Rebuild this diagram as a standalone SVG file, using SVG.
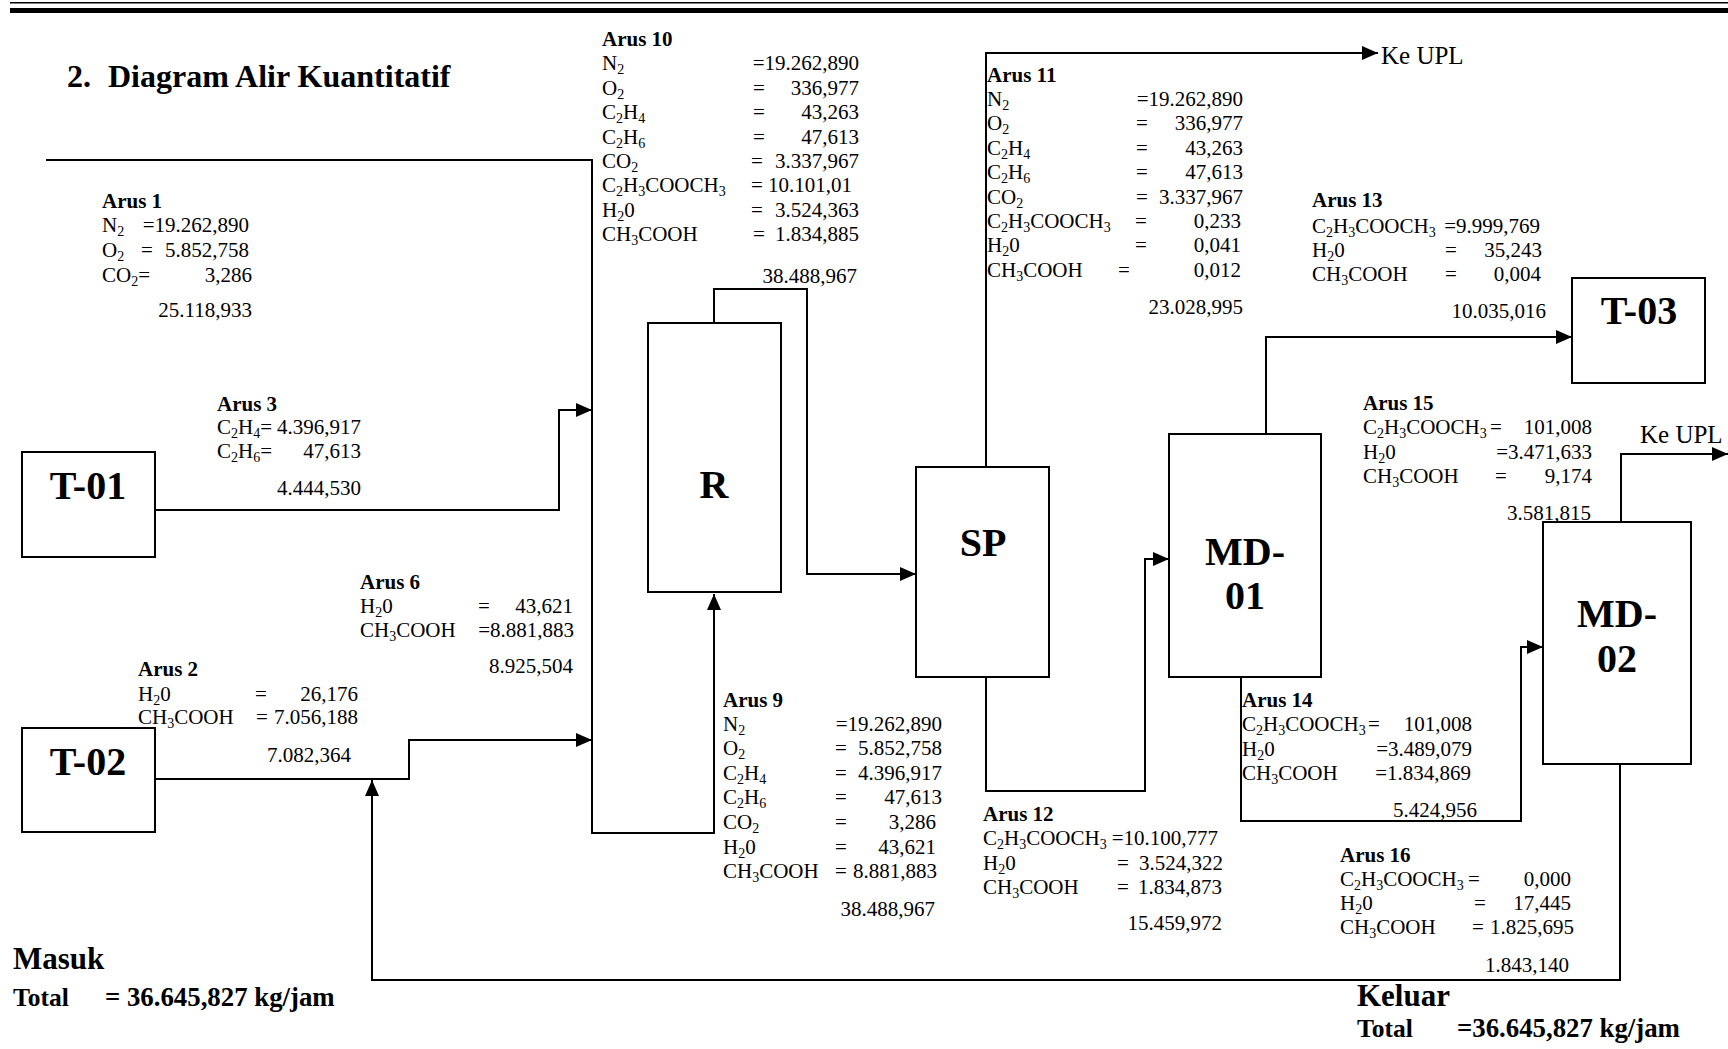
<svg xmlns="http://www.w3.org/2000/svg" width="1728" height="1049" viewBox="0 0 1728 1049">
<style>
text{font-family:"Liberation Serif","Times New Roman",serif;font-size:21px;fill:#000}
.b{font-weight:bold}
.e{text-anchor:end}
.s{font-size:14px;baseline-shift:-4px}
.eq{font-size:40px;font-weight:bold;text-anchor:middle}
.big{font-size:31px;font-weight:bold}
.tot{font-size:25.5px;font-weight:bold}
.totv{font-size:26.8px;font-weight:bold}
.upl{font-size:25px}
.title{font-size:32px;font-weight:bold}
.box{fill:none;stroke:#000;stroke-width:2}
.ln{fill:none;stroke:#000;stroke-width:2}
</style>
<defs>
<marker id="ah" markerUnits="userSpaceOnUse" markerWidth="16" markerHeight="14" refX="16" refY="7" orient="auto"><path d="M0,0L16,7L0,14z" fill="#000"/></marker>
</defs>
<rect width="1728" height="1049" fill="#fff"/>
<g id="header">
<rect x="10" y="2" width="1718" height="1.5" fill="#000"/>
<rect x="10" y="8" width="1718" height="5" fill="#000"/>
<text class="title" x="67" y="87">2.</text>
<text class="title" x="108" y="87">Diagram Alir Kuantitatif</text>
</g>

<g id="connectors">
<path class="ln" d="M46,160H592V833H714V594" marker-end="url(#ah)"/>
<path class="ln" d="M155,510H559V410H592" marker-end="url(#ah)"/>
<path class="ln" d="M155,779H409V740H592" marker-end="url(#ah)"/>
<path class="ln" d="M1620,764V980H372V780" marker-end="url(#ah)"/>
<path class="ln" d="M714,323V289H807V574H916" marker-end="url(#ah)"/>
<path class="ln" d="M986,467V53H1378" marker-end="url(#ah)"/>
<path class="ln" d="M986,677V791H1145V559H1169" marker-end="url(#ah)"/>
<path class="ln" d="M1266,434V337H1572" marker-end="url(#ah)"/>
<path class="ln" d="M1241,677V821H1521V647H1543" marker-end="url(#ah)"/>
<path class="ln" d="M1621,522V454H1728" marker-end="url(#ah)"/>
</g>

<g id="T-01"><rect class="box" x="22" y="452" width="133" height="105"/><text class="eq" x="88" y="499">T-01</text></g>
<g id="T-02"><rect class="box" x="22" y="728" width="133" height="104"/><text class="eq" x="88" y="775">T-02</text></g>
<g id="R"><rect class="box" x="648" y="323" width="133" height="269"/><text class="eq" x="714" y="498">R</text></g>
<g id="SP"><rect class="box" x="916" y="467" width="133" height="210"/><text class="eq" x="983" y="556">SP</text></g>
<g id="MD-01"><rect class="box" x="1169" y="434" width="152" height="243"/><text class="eq" x="1245" y="565">MD-</text><text class="eq" x="1245" y="609">01</text></g>
<g id="T-03"><rect class="box" x="1572" y="278" width="133" height="105"/><text class="eq" x="1639" y="324">T-03</text></g>
<g id="MD-02"><rect class="box" x="1543" y="522" width="148" height="242"/><text class="eq" x="1617" y="627">MD-</text><text class="eq" x="1617" y="672">02</text></g>

<g id="ke-upl-1"><text class="upl" x="1381" y="64">Ke UPL</text></g>
<g id="ke-upl-2"><text class="upl" x="1640" y="443">Ke UPL</text></g>

<g id="arus-1">
<text class="b" x="102" y="208">Arus 1</text>
<text x="102" y="232">N<tspan class="s">2</tspan></text><text class="e" x="249" y="232">=19.262,890</text>
<text x="102" y="257">O<tspan class="s">2</tspan></text><text x="141" y="257">=</text><text class="e" x="249" y="257">5.852,758</text>
<text x="102" y="282">CO<tspan class="s">2</tspan>=</text><text class="e" x="252" y="282">3,286</text>
<text class="e" x="252" y="317">25.118,933</text>
</g>

<g id="arus-10">
<text class="b" x="602" y="46">Arus 10</text>
<text x="602" y="70">N<tspan class="s">2</tspan></text><text class="e" x="859" y="70">=19.262,890</text>
<text x="602" y="95">O<tspan class="s">2</tspan></text><text x="753" y="95">=</text><text class="e" x="859" y="95">336,977</text>
<text x="602" y="119">C<tspan class="s">2</tspan>H<tspan class="s">4</tspan></text><text x="753" y="119">=</text><text class="e" x="859" y="119">43,263</text>
<text x="602" y="144">C<tspan class="s">2</tspan>H<tspan class="s">6</tspan></text><text x="753" y="144">=</text><text class="e" x="859" y="144">47,613</text>
<text x="602" y="168">CO<tspan class="s">2</tspan></text><text x="751" y="168">=</text><text class="e" x="859" y="168">3.337,967</text>
<text x="602" y="192">C<tspan class="s">2</tspan>H<tspan class="s">3</tspan>COOCH<tspan class="s">3</tspan></text><text x="751" y="192">=</text><text class="e" x="852" y="192">10.101,01</text>
<text x="602" y="217">H<tspan class="s">2</tspan>0</text><text x="751" y="217">=</text><text class="e" x="859" y="217">3.524,363</text>
<text x="602" y="241">CH<tspan class="s">3</tspan>COOH</text><text x="753" y="241">=</text><text class="e" x="859" y="241">1.834,885</text>
<text class="e" x="857" y="283">38.488,967</text>
</g>

<g id="arus-11">
<text class="b" x="987" y="82">Arus 11</text>
<text x="987" y="106">N<tspan class="s">2</tspan></text><text class="e" x="1243" y="106">=19.262,890</text>
<text x="987" y="130">O<tspan class="s">2</tspan></text><text x="1136" y="130">=</text><text class="e" x="1243" y="130">336,977</text>
<text x="987" y="155">C<tspan class="s">2</tspan>H<tspan class="s">4</tspan></text><text x="1136" y="155">=</text><text class="e" x="1243" y="155">43,263</text>
<text x="987" y="179">C<tspan class="s">2</tspan>H<tspan class="s">6</tspan></text><text x="1136" y="179">=</text><text class="e" x="1243" y="179">47,613</text>
<text x="987" y="204">CO<tspan class="s">2</tspan></text><text x="1136" y="204">=</text><text class="e" x="1243" y="204">3.337,967</text>
<text x="987" y="228">C<tspan class="s">2</tspan>H<tspan class="s">3</tspan>COOCH<tspan class="s">3</tspan></text><text x="1135" y="228">=</text><text class="e" x="1241" y="228">0,233</text>
<text x="987" y="252">H<tspan class="s">2</tspan>0</text><text x="1135" y="252">=</text><text class="e" x="1241" y="252">0,041</text>
<text x="987" y="277">CH<tspan class="s">3</tspan>COOH</text><text x="1118" y="277">=</text><text class="e" x="1241" y="277">0,012</text>
<text class="e" x="1243" y="314">23.028,995</text>
</g>

<g id="arus-13">
<text class="b" x="1312" y="207">Arus 13</text>
<text x="1312" y="233">C<tspan class="s">2</tspan>H<tspan class="s">3</tspan>COOCH<tspan class="s">3</tspan></text><text class="e" x="1540" y="233">=9.999,769</text>
<text x="1312" y="257">H<tspan class="s">2</tspan>0</text><text x="1445" y="257">=</text><text class="e" x="1542" y="257">35,243</text>
<text x="1312" y="281">CH<tspan class="s">3</tspan>COOH</text><text x="1445" y="281">=</text><text class="e" x="1541" y="281">0,004</text>
<text class="e" x="1546" y="318">10.035,016</text>
</g>

<g id="arus-15">
<text class="b" x="1363" y="410">Arus 15</text>
<text x="1363" y="434">C<tspan class="s">2</tspan>H<tspan class="s">3</tspan>COOCH<tspan class="s">3</tspan></text><text x="1490" y="434">=</text><text class="e" x="1592" y="434">101,008</text>
<text x="1363" y="459">H<tspan class="s">2</tspan>0</text><text class="e" x="1592" y="459">=3.471,633</text>
<text x="1363" y="483">CH<tspan class="s">3</tspan>COOH</text><text x="1495" y="483">=</text><text class="e" x="1592" y="483">9,174</text>
<text class="e" x="1591" y="520">3.581,815</text>
</g>

<g id="arus-3">
<text class="b" x="217" y="411">Arus 3</text>
<text x="217" y="434">C<tspan class="s">2</tspan>H<tspan class="s">4</tspan>=</text><text class="e" x="361" y="434">4.396,917</text>
<text x="217" y="458">C<tspan class="s">2</tspan>H<tspan class="s">6</tspan>=</text><text class="e" x="361" y="458">47,613</text>
<text class="e" x="361" y="495">4.444,530</text>
</g>

<g id="arus-6">
<text class="b" x="360" y="589">Arus 6</text>
<text x="360" y="613">H<tspan class="s">2</tspan>0</text><text x="478" y="613">=</text><text class="e" x="573" y="613">43,621</text>
<text x="360" y="637">CH<tspan class="s">3</tspan>COOH</text><text class="e" x="574" y="637">=8.881,883</text>
<text class="e" x="573" y="673">8.925,504</text>
</g>

<g id="arus-2">
<text class="b" x="138" y="676">Arus 2</text>
<text x="138" y="701">H<tspan class="s">2</tspan>0</text><text x="255" y="701">=</text><text class="e" x="358" y="701">26,176</text>
<text x="138" y="724">CH<tspan class="s">3</tspan>COOH</text><text x="256" y="724">=</text><text class="e" x="358" y="724">7.056,188</text>
<text class="e" x="351" y="762">7.082,364</text>
</g>

<g id="arus-9">
<text class="b" x="723" y="707">Arus 9</text>
<text x="723" y="731">N<tspan class="s">2</tspan></text><text class="e" x="942" y="731">=19.262,890</text>
<text x="723" y="755">O<tspan class="s">2</tspan></text><text x="835" y="755">=</text><text class="e" x="942" y="755">5.852,758</text>
<text x="723" y="780">C<tspan class="s">2</tspan>H<tspan class="s">4</tspan></text><text x="835" y="780">=</text><text class="e" x="942" y="780">4.396,917</text>
<text x="723" y="804">C<tspan class="s">2</tspan>H<tspan class="s">6</tspan></text><text x="835" y="804">=</text><text class="e" x="942" y="804">47,613</text>
<text x="723" y="829">CO<tspan class="s">2</tspan></text><text x="835" y="829">=</text><text class="e" x="936" y="829">3,286</text>
<text x="723" y="854">H<tspan class="s">2</tspan>0</text><text x="835" y="854">=</text><text class="e" x="936" y="854">43,621</text>
<text x="723" y="878">CH<tspan class="s">3</tspan>COOH</text><text x="835" y="878">=</text><text class="e" x="937" y="878">8.881,883</text>
<text class="e" x="935" y="916">38.488,967</text>
</g>

<g id="arus-12">
<text class="b" x="983" y="821">Arus 12</text>
<text x="983" y="845">C<tspan class="s">2</tspan>H<tspan class="s">3</tspan>COOCH<tspan class="s">3</tspan></text><text class="e" x="1218" y="845">=10.100,777</text>
<text x="983" y="870">H<tspan class="s">2</tspan>0</text><text x="1117" y="870">=</text><text class="e" x="1223" y="870">3.524,322</text>
<text x="983" y="894">CH<tspan class="s">3</tspan>COOH</text><text x="1117" y="894">=</text><text class="e" x="1222" y="894">1.834,873</text>
<text class="e" x="1222" y="930">15.459,972</text>
</g>

<g id="arus-14">
<text class="b" x="1242" y="707">Arus 14</text>
<text x="1242" y="731">C<tspan class="s">2</tspan>H<tspan class="s">3</tspan>COOCH<tspan class="s">3</tspan></text><text x="1368" y="731">=</text><text class="e" x="1472" y="731">101,008</text>
<text x="1242" y="756">H<tspan class="s">2</tspan>0</text><text class="e" x="1472" y="756">=3.489,079</text>
<text x="1242" y="780">CH<tspan class="s">3</tspan>COOH</text><text class="e" x="1471" y="780">=1.834,869</text>
<text class="e" x="1477" y="817">5.424,956</text>
</g>

<g id="arus-16">
<text class="b" x="1340" y="862">Arus 16</text>
<text x="1340" y="886">C<tspan class="s">2</tspan>H<tspan class="s">3</tspan>COOCH<tspan class="s">3</tspan></text><text x="1468" y="886">=</text><text class="e" x="1571" y="886">0,000</text>
<text x="1340" y="910">H<tspan class="s">2</tspan>0</text><text x="1474" y="910">=</text><text class="e" x="1571" y="910">17,445</text>
<text x="1340" y="934">CH<tspan class="s">3</tspan>COOH</text><text x="1472" y="934">=</text><text class="e" x="1574" y="934">1.825,695</text>
<text class="e" x="1569" y="972">1.843,140</text>
</g>

<g id="masuk">
<text class="big" x="13" y="969">Masuk</text>
<text class="tot" x="13" y="1006">Total</text>
<text class="totv" x="105" y="1006">= 36.645,827 kg/jam</text>
</g>
<g id="keluar">
<text class="big" x="1357" y="1006">Keluar</text>
<text class="tot" x="1357" y="1037">Total</text>
<text class="totv" x="1457" y="1037">=36.645,827 kg/jam</text>
</g>
</svg>
